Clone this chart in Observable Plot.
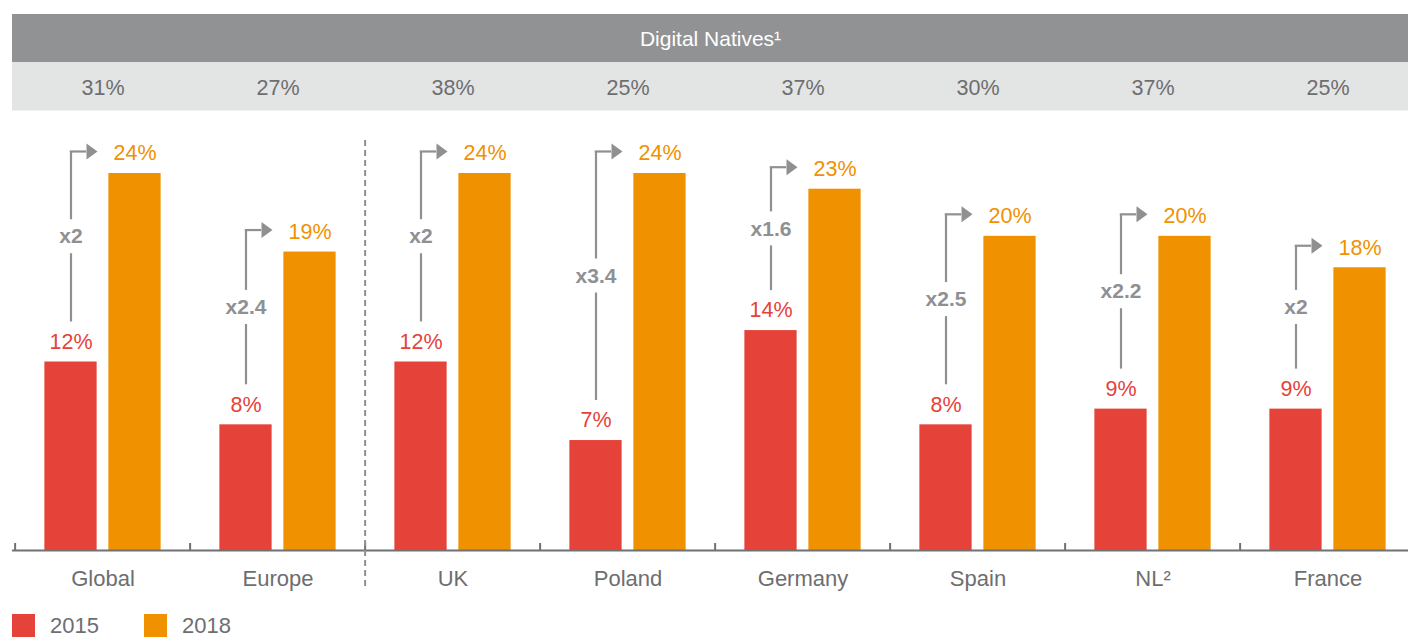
<!DOCTYPE html>
<html>
<head>
<meta charset="utf-8">
<script src="https://cdn.jsdelivr.net/npm/d3@7"></script>
<script src="https://cdn.jsdelivr.net/npm/@observablehq/plot@0.6"></script>
<style>
  html, body { margin: 0; padding: 0; background: #fff; overflow: hidden; }
  body { font-family: "Liberation Sans", Arial, Helvetica, sans-serif; }
  #legend { display: flex; align-items: center; margin-top: 8px; padding-left: 12px; font-size: 22px; line-height: 20px; color: #6d6e70; }
  #legend .sw { width: 23px; height: 23px; display: inline-block; }
  #legend .item { display: flex; align-items: center; margin-right: 45px; }
  #legend .item span.lab { margin-left: 15px; }
</style>
</head>
<body>
<div id="chart"></div>
<div id="legend"></div>
<script>
// ---- data ----
const categories = ["Global", "Europe", "UK", "Poland", "Germany", "Spain", "NL²", "France"];
const nativesShare = [31, 27, 38, 25, 37, 30, 37, 25];
const values2015 = [12, 8, 12, 7, 14, 8, 9, 9];
const values2018 = [24, 19, 24, 24, 23, 20, 20, 18];
const multipliers = ["x2", "x2.4", "x2", "x3.4", "x1.6", "x2.5", "x2.2", "x2"];
const years = ["2015", "2018"];
const headerTitle = "Digital Natives¹";

// ---- style / layout ----
const RED = "#e5423a", ORANGE = "#f09100", GREY_TXT = "#6d6e70", ARROW = "#8f9092";
const DARK_BAND = "#919294", LIGHT_BAND = "#e3e4e4";
const W = 1408, H = 606;
const xRange = [12, 1418];
const bw = (xRange[1] - xRange[0]) / categories.length;
const barW = 53, barGap = 11;
const off = barW / 2 + barGap / 2; // offset of bar centre from band centre
const yTop = d3.max(values2018);
const yRange = [550, 173];
const k = yTop / (yRange[0] - yRange[1]); // data units per pixel
const pxToY = px => (yRange[0] - px) * k;

const rows = categories.map((c, i) => {
  const top = values2018[i] + 22 * k;
  const bot = values2015[i] + 40 * k;
  const mid = (top + bot) / 2;
  return {cat: c, v15: values2015[i], v18: values2018[i], nat: nativesShare[i], mult: multipliers[i],
          top, bot, mid, gapLo: mid - 17 * k, gapHi: mid + 17 * k};
});

const triangle = {
  draw(ctx) {
    ctx.moveTo(-5.5, -8);
    ctx.lineTo(5.5, 0);
    ctx.lineTo(-5.5, 8);
    ctx.closePath();
  }
};

const font = "'Liberation Sans', Arial, Helvetica, sans-serif";

const plot = Plot.plot({
  width: W,
  height: H,
  marginLeft: 12,
  marginRight: 0,
  marginTop: 0,
  marginBottom: H - yRange[0],
  style: {fontFamily: font, background: "#fff"},
  x: {type: "band", domain: categories, range: xRange, padding: 0, axis: null},
  y: {domain: [0, yTop], range: yRange, axis: null},
  marks: [
    // header bands
    Plot.rect([0], {y1: pxToY(62), y2: pxToY(14), fill: DARK_BAND}),
    Plot.rect([0], {y1: pxToY(110.5), y2: pxToY(62), fill: LIGHT_BAND}),
    Plot.text([headerTitle], {y: pxToY(39), text: d => d, fill: "#ffffff", fontSize: 21}),
    Plot.text(rows, {x: "cat", y: pxToY(88), text: d => `${d.nat}%`, fill: GREY_TXT, fontSize: 21.5}),
    // bars
    Plot.barY(rows, {x: "cat", y: "v15", fill: RED, insetLeft: bw / 2 - barGap / 2 - barW, insetRight: bw / 2 + barGap / 2}),
    Plot.barY(rows, {x: "cat", y: "v18", fill: ORANGE, insetLeft: bw / 2 + barGap / 2, insetRight: bw / 2 - barGap / 2 - barW}),
    // axis line and ticks
    Plot.ruleY([0], {stroke: "#707173", strokeWidth: 2}),
    Plot.ruleX(categories, {x: d => d, dx: -bw / 2, y1: 0, y2: pxToY(543), stroke: "#707173", strokeWidth: 2}),
    // dashed separator between Europe and UK
    Plot.ruleX(["UK"], {x: d => d, dx: -bw / 2, y1: pxToY(586), y2: pxToY(140), stroke: "#8f9092", strokeWidth: 2, strokeDasharray: "6,4"}),
    // category labels
    Plot.text(rows, {x: "cat", y: 0, dy: 28, text: "cat", fill: GREY_TXT, fontSize: 22}),
    // value labels
    Plot.text(rows, {x: "cat", y: "v15", dx: -off, dy: -20, text: d => `${d.v15}%`, fill: RED, fontSize: 21.5}),
    Plot.text(rows, {x: "cat", y: "v18", dx: off, dy: -20, text: d => `${d.v18}%`, fill: ORANGE, fontSize: 21.5}),
    // growth arrows
    Plot.ruleX(rows, {x: "cat", dx: -off, y1: "bot", y2: "gapLo", stroke: ARROW, strokeWidth: 2.2}),
    Plot.ruleX(rows, {x: "cat", dx: -off, y1: "gapHi", y2: "top", stroke: ARROW, strokeWidth: 2.2}),
    Plot.tickY(rows, {x: "cat", y: "top", stroke: ARROW, strokeWidth: 2.2,
      insetLeft: bw / 2 - off - 1.1, insetRight: bw / 2 + off - 16}),
    Plot.dot(rows, {x: "cat", y: "top", dx: -off + 21, symbol: triangle, r: 6, fill: ARROW, stroke: "none"}),
    Plot.text(rows, {x: "cat", y: "mid", dx: -off, text: "mult", fill: ARROW, fontSize: 21, fontWeight: "bold"})
  ]
});
document.getElementById("chart").appendChild(plot);

// legend
const legend = d3.select("#legend");
years.forEach((yr, i) => {
  const item = legend.append("div").attr("class", "item");
  item.append("span").attr("class", "sw").style("background", [RED, ORANGE][i]);
  item.append("span").attr("class", "lab").text(yr);
});
</script>
</body>
</html>
